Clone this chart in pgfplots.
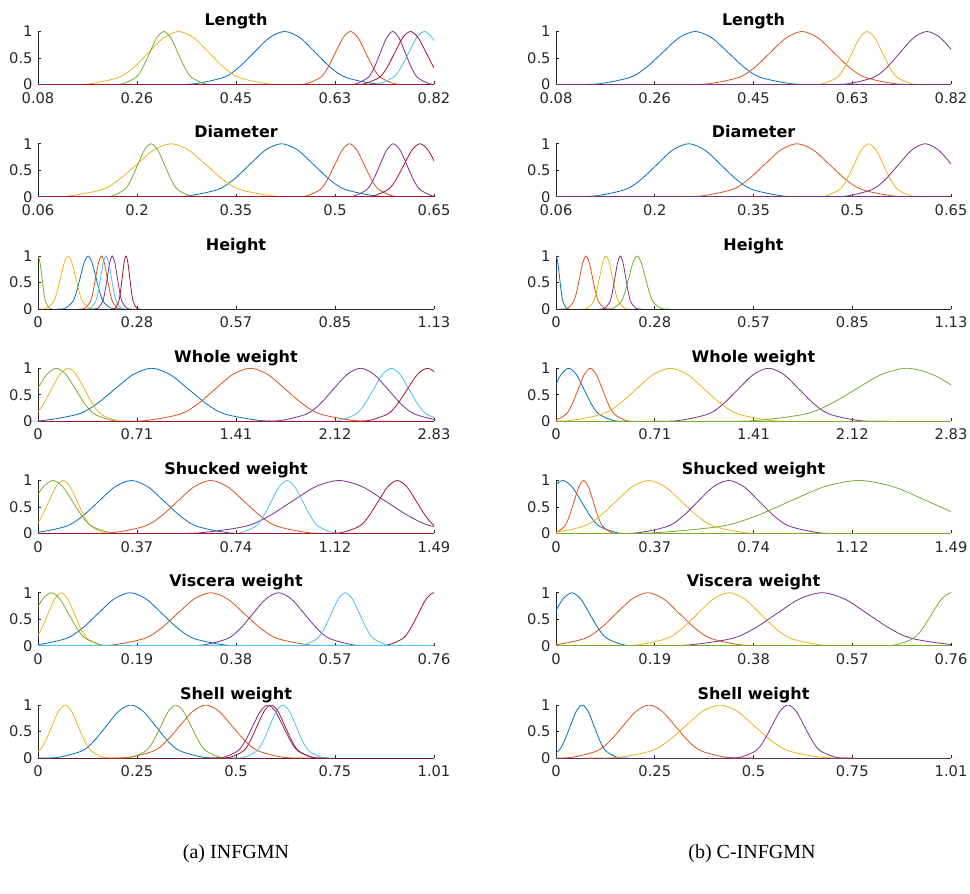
\documentclass[border=0pt]{standalone}
\usepackage{fontspec}
\usepackage{pgfplots}
\usepackage{pgfplotstable}
\pgfplotsset{compat=1.18}
\newfontfamily\dejavu{DejaVu Sans}
\newfontfamily\capfont{Liberation Serif}
\newcommand\tickfont{\dejavu\fontsize{11}{12}\selectfont}
\newcommand\titlefont{\dejavu\bfseries\fontsize{12}{14}\selectfont}
\definecolor{mblue}{RGB}{0,114,189}
\definecolor{morange}{RGB}{217,83,25}
\definecolor{myellow}{RGB}{237,177,32}
\definecolor{mpurple}{RGB}{126,47,142}
\definecolor{mgreen}{RGB}{119,172,48}
\definecolor{mcyan}{RGB}{77,190,238}
\definecolor{mred}{RGB}{162,20,47}
\definecolor{agray}{RGB}{38,38,38}

% Length
\pgfplotstableread{
Y B O Yl P G C R
0 0.308 0.547 0.114 0.646 0.206 0.681 0.655
0.011 0.365 0.575 0.170 0.669 0.232 0.710 0.684
0.135 0.422 0.603 0.226 0.692 0.258 0.739 0.713
0.325 0.4505 0.617 0.254 0.7035 0.271 0.7535 0.7275
0.607 0.479 0.631 0.282 0.715 0.284 0.768 0.742
0.882 0.5075 0.645 0.310 0.7265 0.297 0.7825 0.7565
1 0.536 0.659 0.338 0.738 0.310 0.797 0.771
0.882 0.5645 0.673 0.366 0.7495 0.323 0.8115 0.7855
0.607 0.593 0.687 0.394 0.761 0.336 0.826 0.800
0.325 0.6215 0.701 0.422 0.7725 0.349 0.8405 0.8145
0.135 0.650 0.715 0.450 0.784 0.362 0.855 0.829
0.011 0.707 0.743 0.506 0.807 0.388 0.884 0.858
0 0.764 0.771 0.562 0.830 0.414 0.913 0.887
}\lenL
\pgfplotstableread{
Y B O Yl P
0 0.092 0.300 0.546 0.570
0.011 0.153 0.359 0.574 0.620
0.135 0.214 0.418 0.602 0.670
0.325 0.2445 0.4475 0.616 0.695
0.607 0.275 0.477 0.630 0.720
0.882 0.3055 0.5065 0.644 0.745
1 0.336 0.536 0.658 0.770
0.882 0.3665 0.5655 0.672 0.795
0.607 0.397 0.595 0.686 0.820
0.325 0.4275 0.6245 0.700 0.845
0.135 0.458 0.654 0.714 0.870
0.011 0.519 0.713 0.742 0.920
0 0.580 0.772 0.770 0.970
}\lenR
% Diameter
\pgfplotstableread{
Y B O Yl P G R
0 0.229 0.435 0.047 0.509 0.145 0.533
0.011 0.277 0.457 0.099 0.529 0.165 0.557
0.135 0.325 0.479 0.151 0.549 0.185 0.581
0.325 0.349 0.490 0.177 0.559 0.195 0.593
0.607 0.373 0.501 0.203 0.569 0.205 0.605
0.882 0.397 0.512 0.229 0.579 0.215 0.617
1 0.421 0.523 0.255 0.589 0.225 0.629
0.882 0.445 0.534 0.281 0.599 0.235 0.641
0.607 0.469 0.545 0.307 0.609 0.245 0.653
0.325 0.493 0.556 0.333 0.619 0.255 0.665
0.135 0.517 0.567 0.359 0.629 0.265 0.677
0.011 0.565 0.589 0.411 0.649 0.285 0.701
0 0.613 0.611 0.463 0.669 0.305 0.725
}\diaL
\pgfplotstableread{
Y B O Yl P
0 0.063 0.222 0.438 0.451
0.011 0.111 0.271 0.460 0.491
0.135 0.159 0.320 0.482 0.531
0.325 0.183 0.3445 0.493 0.551
0.607 0.207 0.369 0.504 0.571
0.882 0.231 0.3935 0.515 0.591
1 0.255 0.418 0.526 0.611
0.882 0.279 0.4425 0.537 0.631
0.607 0.303 0.467 0.548 0.651
0.325 0.327 0.4915 0.559 0.671
0.135 0.351 0.516 0.570 0.691
0.011 0.399 0.565 0.592 0.731
0 0.447 0.614 0.614 0.771
}\diaR
% Height
\pgfplotstableread{
Y B O Yl P G C R
0 0.055 0.117 0.002 0.156 -0.044 0.134 0.209
0.011 0.077 0.133 0.023 0.170 -0.033 0.149 0.2195
0.135 0.099 0.149 0.044 0.184 -0.022 0.164 0.230
0.325 0.110 0.157 0.0545 0.191 -0.0165 0.1715 0.2353
0.607 0.121 0.165 0.065 0.198 -0.011 0.179 0.2405
0.882 0.132 0.173 0.0755 0.205 -0.0055 0.1865 0.2458
1 0.143 0.181 0.086 0.212 0 0.194 0.251
0.882 0.154 0.189 0.0965 0.219 0.0055 0.2015 0.2563
0.607 0.165 0.197 0.107 0.226 0.011 0.209 0.2615
0.325 0.176 0.205 0.1175 0.233 0.0165 0.2165 0.2668
0.135 0.187 0.213 0.128 0.240 0.022 0.224 0.272
0.011 0.209 0.229 0.149 0.254 0.033 0.239 0.2825
0 0.231 0.245 0.170 0.268 0.044 0.254 0.293
}\heiL
\pgfplotstableread{
Y B O Yl P G
0 -0.04 0.014 0.071 0.124 0.140
0.011 -0.03 0.032 0.089 0.139 0.163
0.135 -0.02 0.050 0.107 0.154 0.186
0.325 -0.015 0.059 0.116 0.1615 0.1975
0.607 -0.01 0.068 0.125 0.169 0.209
0.882 -0.005 0.077 0.134 0.1765 0.2205
1 0 0.086 0.143 0.184 0.232
0.882 0.005 0.095 0.152 0.1915 0.2435
0.607 0.01 0.104 0.161 0.199 0.255
0.325 0.015 0.113 0.170 0.2065 0.2665
0.135 0.02 0.122 0.179 0.214 0.278
0.011 0.03 0.140 0.197 0.229 0.301
0 0.04 0.158 0.215 0.244 0.324
}\heiR
% Whole weight
\pgfplotstableread{
Y B O Yl P G C R
0 -0.236 0.515 -0.252 1.530 -0.411 2.017 2.210
0.011 0.026 0.765 -0.135 1.723 -0.275 2.143 2.352
0.135 0.288 1.015 -0.018 1.916 -0.139 2.269 2.494
0.325 0.419 1.140 0.0405 2.0125 -0.071 2.332 2.565
0.607 0.550 1.265 0.099 2.109 -0.003 2.395 2.636
0.882 0.681 1.390 0.1575 2.2055 0.065 2.458 2.707
1 0.812 1.515 0.216 2.302 0.133 2.521 2.778
0.882 0.943 1.640 0.2745 2.3985 0.201 2.584 2.849
0.607 1.074 1.765 0.333 2.495 0.269 2.647 2.920
0.325 1.205 1.890 0.3915 2.5915 0.337 2.710 2.991
0.135 1.336 2.015 0.450 2.688 0.405 2.773 3.062
0.011 1.598 2.265 0.567 2.881 0.541 2.899 3.204
0 1.860 2.515 0.684 3.074 0.677 3.025 3.346
}\whoL
\pgfplotstableread{
Y B O Yl P G
0 -0.339 -0.097 -0.153 0.654 1.051
0.011 -0.231 -0.011 0.090 0.871 1.416
0.135 -0.123 0.075 0.333 1.088 1.781
0.325 -0.069 0.118 0.4545 1.1965 1.9635
0.607 -0.015 0.161 0.576 1.305 2.146
0.882 0.039 0.204 0.6975 1.4135 2.3285
1 0.093 0.247 0.819 1.522 2.511
0.882 0.147 0.290 0.9405 1.6305 2.6935
0.607 0.201 0.333 1.062 1.739 2.876
0.325 0.255 0.376 1.1835 1.8475 3.0585
0.135 0.309 0.419 1.305 1.956 3.241
0.011 0.417 0.505 1.548 2.173 3.606
0 0.525 0.591 1.791 2.390 3.971
}\whoR
% Shucked weight
\pgfplotstableread{
Y B O Yl P G C R
0 -0.140 0.150 -0.117 0.427 -0.2345 0.700 1.064
0.011 -0.017 0.275 -0.064 0.603 -0.1615 0.759 1.1355
0.135 0.106 0.400 -0.011 0.779 -0.0885 0.818 1.207
0.325 0.1675 0.4625 0.0155 0.867 -0.052 0.8475 1.2428
0.607 0.229 0.525 0.042 0.955 -0.0155 0.877 1.2785
0.882 0.2905 0.5875 0.0685 1.043 0.021 0.9065 1.3143
1 0.352 0.650 0.095 1.131 0.0575 0.936 1.350
0.882 0.4135 0.7125 0.1215 1.219 0.094 0.9655 1.3858
0.607 0.475 0.775 0.148 1.307 0.1305 0.995 1.4215
0.325 0.5365 0.8375 0.1745 1.395 0.167 1.0245 1.4573
0.135 0.598 0.900 0.201 1.483 0.2035 1.054 1.493
0.011 0.721 1.025 0.254 1.659 0.2765 1.113 1.5645
0 0.844 1.150 0.307 1.835 0.3495 1.172 1.636
}\shuL
\pgfplotstableread{
Y B O Yl P G
0 -0.249 -0.039 -0.142 0.191 0.101
0.011 -0.180 -0.003 -0.019 0.306 0.361
0.135 -0.111 0.033 0.104 0.421 0.621
0.325 -0.0765 0.051 0.1655 0.4785 0.751
0.607 -0.042 0.069 0.227 0.536 0.881
0.882 -0.0075 0.087 0.2885 0.5935 1.011
1 0.027 0.105 0.350 0.651 1.141
0.882 0.0615 0.123 0.4115 0.7085 1.271
0.607 0.096 0.141 0.473 0.766 1.401
0.325 0.1305 0.159 0.5345 0.8235 1.531
0.135 0.165 0.177 0.596 0.881 1.661
0.011 0.234 0.213 0.719 0.996 1.921
0 0.303 0.249 0.842 1.111 2.181
}\shuR
% Viscera weight
\pgfplotstableread{
Y B O Yl P G C R
0 -0.069 0.076 -0.055 0.266 -0.106 0.482 0.640
0.011 -0.0075 0.140 -0.030 0.315 -0.073 0.509 0.670
0.135 0.054 0.204 -0.005 0.364 -0.040 0.536 0.700
0.325 0.0848 0.236 0.0075 0.3885 -0.0235 0.5495 0.715
0.607 0.1155 0.268 0.020 0.413 -0.007 0.563 0.730
0.882 0.1463 0.300 0.0325 0.4375 0.0095 0.5765 0.745
1 0.177 0.332 0.045 0.462 0.026 0.590 0.760
0.882 0.2078 0.364 0.0575 0.4865 0.0425 0.6035 0.775
0.607 0.2385 0.396 0.070 0.511 0.059 0.617 0.790
0.325 0.2693 0.428 0.0825 0.5355 0.0755 0.6305 0.805
0.135 0.300 0.460 0.095 0.560 0.092 0.644 0.820
0.011 0.3615 0.524 0.120 0.609 0.125 0.671 0.850
0 0.423 0.588 0.145 0.658 0.158 0.698 0.880
}\visL
\pgfplotstableread{
Y B O Yl P G
0 -0.105 -0.067 0.093 0.164 0.614
0.011 -0.071 -0.006 0.153 0.251 0.6505
0.135 -0.037 0.055 0.213 0.338 0.687
0.325 -0.020 0.0855 0.243 0.3815 0.7053
0.607 -0.003 0.116 0.273 0.425 0.7235
0.882 0.014 0.1465 0.303 0.4685 0.7418
1 0.031 0.177 0.333 0.512 0.760
0.882 0.048 0.2075 0.363 0.5555 0.7783
0.607 0.065 0.238 0.393 0.599 0.7965
0.325 0.082 0.2685 0.423 0.6425 0.8148
0.135 0.099 0.299 0.453 0.686 0.833
0.011 0.133 0.360 0.513 0.773 0.8695
0 0.167 0.421 0.573 0.860 0.906
}\visR
% Shell weight
\pgfplotstableread{
Y B O Yl P G C R
0 -0.011 0.163 -0.062 0.432 0.199 0.490 0.452
0.011 0.051 0.229 -0.029 0.470 0.237 0.523 0.487
0.135 0.113 0.295 0.004 0.508 0.275 0.556 0.522
0.325 0.144 0.328 0.0205 0.527 0.294 0.5725 0.5395
0.607 0.175 0.361 0.037 0.546 0.313 0.589 0.557
0.882 0.206 0.394 0.0535 0.565 0.332 0.6055 0.5745
1 0.237 0.427 0.070 0.584 0.351 0.622 0.592
0.882 0.268 0.460 0.0865 0.603 0.370 0.6385 0.6095
0.607 0.299 0.493 0.103 0.622 0.389 0.655 0.627
0.325 0.330 0.526 0.1195 0.641 0.408 0.6715 0.6445
0.135 0.361 0.559 0.136 0.660 0.427 0.688 0.662
0.011 0.423 0.625 0.169 0.698 0.465 0.721 0.697
0 0.485 0.691 0.202 0.736 0.503 0.754 0.732
}\sheL
\pgfplotstableread{
Y B O Yl P
0 -0.052 -0.026 0.070 0.427
0.011 -0.022 0.040 0.157 0.468
0.135 0.008 0.106 0.244 0.509
0.325 0.023 0.139 0.2875 0.5295
0.607 0.038 0.172 0.331 0.550
0.882 0.053 0.205 0.3745 0.5705
1 0.068 0.238 0.418 0.591
0.882 0.083 0.271 0.4615 0.6115
0.607 0.098 0.304 0.505 0.632
0.325 0.113 0.337 0.5485 0.6525
0.135 0.128 0.370 0.592 0.673
0.011 0.158 0.436 0.679 0.714
0 0.188 0.502 0.766 0.755
}\sheR

\pgfplotsset{
  every axis title shift=0pt,
  mf/.style={scale only axis, anchor=south west, height=39.75pt,
    ymin=0, ymax=1, ytick={0,0.5,1}, yticklabels={0,0.5,1},
    axis lines*=left, tick align=inside, major tick length=2.3pt,
    axis line style={draw=agray, line width=0.5pt},
    every tick/.style={draw=agray, line width=0.5pt},
    tick label style={font=\tickfont, text=agray},
    xticklabel style={anchor=north, inner sep=0pt, yshift=-5.6pt},
    yticklabel style={anchor=east, inner sep=0pt, xshift=-3.9pt},
    title style={font=\titlefont, anchor=base, at={(0.5,1)}, yshift=4.4pt, inner sep=0pt},
    every axis plot/.append style={line width=0.6pt, smooth},
    clip=true},
  ml/.style={mf, width=297pt},
  mr/.style={mf, width=296.25pt},
  lenx/.style={xmin=0.075, xmax=0.815, xtick={0.075,0.26,0.445,0.63,0.815}, xticklabels={0.08,0.26,0.45,0.63,0.82}},
  diax/.style={xmin=0.055, xmax=0.65, xtick={0.055,0.20375,0.3525,0.50125,0.65}, xticklabels={0.06,0.2,0.35,0.5,0.65}},
  heix/.style={xmin=0, xmax=1.13, xtick={0,0.2825,0.565,0.8475,1.13}, xticklabels={0,0.28,0.57,0.85,1.13}},
  whox/.style={xmin=0.002, xmax=2.8255, xtick={0.002,0.70788,1.41375,2.11963,2.8255}, xticklabels={0,0.71,1.41,2.12,2.83}},
  shux/.style={xmin=0.001, xmax=1.488, xtick={0.001,0.37275,0.7445,1.11625,1.488}, xticklabels={0,0.37,0.74,1.12,1.49}},
  visx/.style={xmin=0.0005, xmax=0.76, xtick={0.0005,0.19038,0.38025,0.57013,0.76}, xticklabels={0,0.19,0.38,0.57,0.76}},
  shex/.style={xmin=0.0015, xmax=1.005, xtick={0.0015,0.25238,0.50325,0.75413,1.005}, xticklabels={0,0.25,0.5,0.75,1.01}},
}

\begin{document}
\begin{tikzpicture}
\path[use as bounding box] (0pt,0pt) rectangle (727.5pt,669.75pt);

% ---------- Left column (INFGMN) ----------
\begin{axis}[ml, lenx, at={(28.5pt,606.375pt)}, title={Length}]
\addplot[mblue] table[x=B,y=Y]{\lenL};
\addplot[morange] table[x=O,y=Y]{\lenL};
\addplot[myellow] table[x=Yl,y=Y]{\lenL};
\addplot[mpurple] table[x=P,y=Y]{\lenL};
\addplot[mgreen] table[x=G,y=Y]{\lenL};
\addplot[mcyan] table[x=C,y=Y]{\lenL};
\addplot[mred] table[x=R,y=Y]{\lenL};
\addplot[mred] coordinates {(0.075,0)(0.815,0)};
\end{axis}

\begin{axis}[ml, diax, at={(28.5pt,522.19pt)}, title={Diameter}]
\addplot[mblue] table[x=B,y=Y]{\diaL};
\addplot[morange] table[x=O,y=Y]{\diaL};
\addplot[myellow] table[x=Yl,y=Y]{\diaL};
\addplot[mpurple] table[x=P,y=Y]{\diaL};
\addplot[mgreen] table[x=G,y=Y]{\diaL};
\addplot[mred] table[x=R,y=Y]{\diaL};
\addplot[mred] coordinates {(0.055,0)(0.65,0)};
\end{axis}

\begin{axis}[ml, heix, at={(28.5pt,438pt)}, title={Height}]
\addplot[mblue] table[x=B,y=Y]{\heiL};
\addplot[morange] table[x=O,y=Y]{\heiL};
\addplot[myellow] table[x=Yl,y=Y]{\heiL};
\addplot[mpurple] table[x=P,y=Y]{\heiL};
\addplot[mgreen] table[x=G,y=Y]{\heiL};
\addplot[mcyan] table[x=C,y=Y]{\heiL};
\addplot[mred] table[x=R,y=Y]{\heiL};
\addplot[mred] coordinates {(0,0)(1.13,0)};
\end{axis}

\begin{axis}[ml, whox, at={(28.5pt,353.81pt)}, title={Whole weight}]
\addplot[mblue] table[x=B,y=Y]{\whoL};
\addplot[morange] table[x=O,y=Y]{\whoL};
\addplot[myellow] table[x=Yl,y=Y]{\whoL};
\addplot[mpurple] table[x=P,y=Y]{\whoL};
\addplot[mgreen] table[x=G,y=Y]{\whoL};
\addplot[mcyan] table[x=C,y=Y]{\whoL};
\addplot[mred] table[x=R,y=Y]{\whoL};
\addplot[mred] coordinates {(0.002,0)(2.8255,0)};
\end{axis}

\begin{axis}[ml, shux, at={(28.5pt,269.63pt)}, title={Shucked weight}]
\addplot[mblue] table[x=B,y=Y]{\shuL};
\addplot[morange] table[x=O,y=Y]{\shuL};
\addplot[myellow] table[x=Yl,y=Y]{\shuL};
\addplot[mpurple] table[x=P,y=Y]{\shuL};
\addplot[mgreen] table[x=G,y=Y]{\shuL};
\addplot[mcyan] table[x=C,y=Y]{\shuL};
\addplot[mred] table[x=R,y=Y]{\shuL};
\addplot[mred] coordinates {(0.001,0)(1.488,0)};
\end{axis}

\begin{axis}[ml, visx, at={(28.5pt,185.44pt)}, title={Viscera weight}]
\addplot[mblue] table[x=B,y=Y]{\visL};
\addplot[morange] table[x=O,y=Y]{\visL};
\addplot[myellow] table[x=Yl,y=Y]{\visL};
\addplot[mpurple] table[x=P,y=Y]{\visL};
\addplot[mgreen] table[x=G,y=Y]{\visL};
\addplot[mcyan] table[x=C,y=Y]{\visL};
\addplot[mred] table[x=R,y=Y]{\visL};
\addplot[mcyan] coordinates {(0.0005,0)(0.76,0)};
\end{axis}

\begin{axis}[ml, shex, at={(28.5pt,101.25pt)}, title={Shell weight}]
\addplot[mblue] table[x=B,y=Y]{\sheL};
\addplot[morange] table[x=O,y=Y]{\sheL};
\addplot[myellow] table[x=Yl,y=Y]{\sheL};
\addplot[mpurple] table[x=P,y=Y]{\sheL};
\addplot[mgreen] table[x=G,y=Y]{\sheL};
\addplot[mcyan] table[x=C,y=Y]{\sheL};
\addplot[mred] table[x=R,y=Y]{\sheL};
\addplot[mred] coordinates {(0.0015,0)(1.005,0)};
\end{axis}

% ---------- Right column (C-INFGMN) ----------
\begin{axis}[mr, lenx, at={(417pt,606.375pt)}, title={Length}]
\addplot[mblue] table[x=B,y=Y]{\lenR};
\addplot[morange] table[x=O,y=Y]{\lenR};
\addplot[myellow] table[x=Yl,y=Y]{\lenR};
\addplot[mpurple] table[x=P,y=Y]{\lenR};
\addplot[mpurple] coordinates {(0.075,0)(0.815,0)};
\end{axis}

\begin{axis}[mr, diax, at={(417pt,522.19pt)}, title={Diameter}]
\addplot[mblue] table[x=B,y=Y]{\diaR};
\addplot[morange] table[x=O,y=Y]{\diaR};
\addplot[myellow] table[x=Yl,y=Y]{\diaR};
\addplot[mpurple] table[x=P,y=Y]{\diaR};
\addplot[mpurple] coordinates {(0.055,0)(0.65,0)};
\end{axis}

\begin{axis}[mr, heix, at={(417pt,438pt)}, title={Height}]
\addplot[mblue] table[x=B,y=Y]{\heiR};
\addplot[morange] table[x=O,y=Y]{\heiR};
\addplot[myellow] table[x=Yl,y=Y]{\heiR};
\addplot[mpurple] table[x=P,y=Y]{\heiR};
\addplot[mgreen] table[x=G,y=Y]{\heiR};
\addplot[mgreen] coordinates {(0,0)(1.13,0)};
\end{axis}

\begin{axis}[mr, whox, at={(417pt,353.81pt)}, title={Whole weight}]
\addplot[mblue] table[x=B,y=Y]{\whoR};
\addplot[morange] table[x=O,y=Y]{\whoR};
\addplot[myellow] table[x=Yl,y=Y]{\whoR};
\addplot[mpurple] table[x=P,y=Y]{\whoR};
\addplot[mgreen] table[x=G,y=Y]{\whoR};
\addplot[mgreen] coordinates {(0.002,0)(2.8255,0)};
\end{axis}

\begin{axis}[mr, shux, at={(417pt,269.63pt)}, title={Shucked weight}]
\addplot[mblue] table[x=B,y=Y]{\shuR};
\addplot[morange] table[x=O,y=Y]{\shuR};
\addplot[myellow] table[x=Yl,y=Y]{\shuR};
\addplot[mpurple] table[x=P,y=Y]{\shuR};
\addplot[mgreen] table[x=G,y=Y]{\shuR};
\addplot[mgreen] coordinates {(0.001,0)(1.488,0)};
\end{axis}

\begin{axis}[mr, visx, at={(417pt,185.44pt)}, title={Viscera weight}]
\addplot[mblue] table[x=B,y=Y]{\visR};
\addplot[morange] table[x=O,y=Y]{\visR};
\addplot[myellow] table[x=Yl,y=Y]{\visR};
\addplot[mpurple] table[x=P,y=Y]{\visR};
\addplot[mgreen] table[x=G,y=Y]{\visR};
\addplot[mgreen] coordinates {(0.0005,0)(0.76,0)};
\end{axis}

\begin{axis}[mr, shex, at={(417pt,101.25pt)}, title={Shell weight}]
\addplot[mblue] table[x=B,y=Y]{\sheR};
\addplot[morange] table[x=O,y=Y]{\sheR};
\addplot[myellow] table[x=Yl,y=Y]{\sheR};
\addplot[mpurple] table[x=P,y=Y]{\sheR};
\addplot[mpurple] coordinates {(0.0015,0)(1.005,0)};
\end{axis}

% captions
\node[font=\capfont\fontsize{15}{18}\selectfont, anchor=base] at (177pt,26.25pt) {(a) INFGMN};
\node[font=\capfont\fontsize{15}{18}\selectfont, anchor=base] at (564pt,26.25pt) {(b) C-INFGMN};
\end{tikzpicture}
\end{document}
